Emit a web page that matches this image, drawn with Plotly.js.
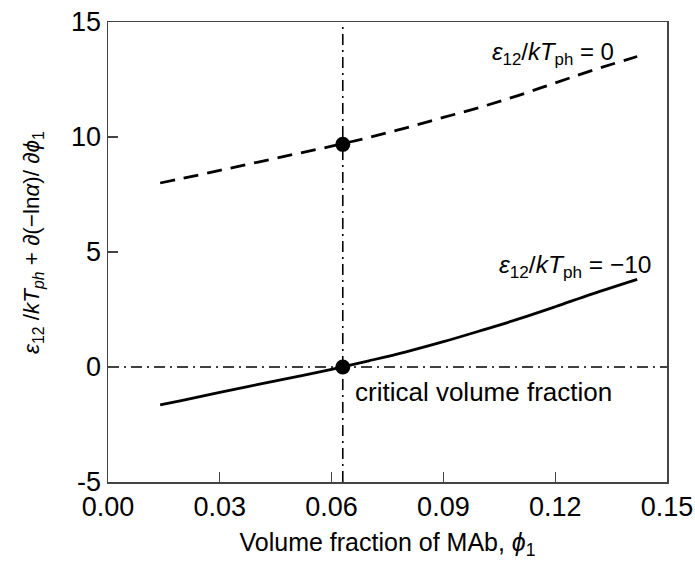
<!DOCTYPE html>
<html>
<head>
<meta charset="utf-8">
<script src="https://cdn.plot.ly/plotly-3.0.1.min.js"></script>
<style>html,body{margin:0;padding:0;background:#fff;}#chart{width:695px;height:563px;}</style>
</head>
<body>
<div id="chart"></div>
<script>
// Volume fraction of MAb (phi1)
const phi = [0.014, 0.02, 0.03, 0.04, 0.05, 0.06, 0.07, 0.08, 0.09, 0.10, 0.11, 0.12, 0.13, 0.142];
// eps12/kTph = 0 (dashed)
const curveZero = [8.0, 8.2, 8.55, 8.9, 9.25, 9.6, 9.98, 10.4, 10.85, 11.3, 11.8, 12.35, 12.9, 13.5];
// eps12/kTph = -10 (solid)
const curveMinus10 = [-1.65, -1.45, -1.1, -0.77, -0.44, -0.1, 0.27, 0.66, 1.1, 1.58, 2.08, 2.62, 3.18, 3.81];
// critical volume fraction points
const critPhi = 0.063;
const critX = [0.063, 0.063];
const critY = [9.68, 0];
const xTickVals = [0, 0.03, 0.06, 0.09, 0.12, 0.15];
const xTickLabels = ['0.00', '0.03', '0.06', '0.09', '0.12', '0.15'];
const yTickVals = [-5, 0, 5, 10, 15];
const yTickLabels = ['-5', '0', '5', '10', '15'];

const FONT = 'Arial, "Liberation Sans", sans-serif';

const traces = [
  {x: phi, y: curveZero, mode: 'lines', line: {color: '#000', width: 2.8, dash: '15px,9px', shape: 'spline'}, hoverinfo: 'skip'},
  {x: phi, y: curveMinus10, mode: 'lines', line: {color: '#000', width: 2.8, shape: 'spline'}, hoverinfo: 'skip'},
  {x: critX, y: critY, mode: 'markers', marker: {color: '#000', size: 15}, hoverinfo: 'skip'}
];

const layout = {
  width: 695, height: 563,
  margin: {l: 108, r: 28, t: 22, b: 81},
  paper_bgcolor: '#fff', plot_bgcolor: '#fff',
  showlegend: false,
  font: {family: FONT, color: '#000', size: 24},
  xaxis: {
    range: [0, 0.15], tickvals: xTickVals, ticktext: xTickLabels,
    ticks: 'inside', ticklen: 10, tickwidth: 1.2, tickcolor: '#444',
    showline: true, mirror: true, linecolor: '#444', linewidth: 1.5,
    showgrid: false, zeroline: false,
    tickfont: {size: 27, family: FONT},
    title: {text: 'Volume fraction of MAb, <i>ϕ</i><sub>1</sub>', font: {size: 25, family: FONT}, standoff: 12}
  },
  yaxis: {
    range: [-5, 15], tickvals: yTickVals, ticktext: yTickLabels,
    ticks: 'inside', ticklen: 10, tickwidth: 1.2, tickcolor: '#444',
    showline: true, mirror: true, linecolor: '#444', linewidth: 1.5,
    showgrid: false, zeroline: false,
    tickfont: {size: 27, family: FONT}
  },
  shapes: [
    {type: 'line', xref: 'x', yref: 'paper', x0: critPhi, x1: critPhi, y0: 0, y1: 1, line: {color: '#000', width: 1.6, dash: '11px,5px,2px,5px'}, layer: 'below'},
    {type: 'line', xref: 'paper', yref: 'y', x0: 0, x1: 1, y0: 0, y1: 0, line: {color: '#000', width: 1.6, dash: '11px,5px,2px,5px'}, layer: 'below'}
  ],
  annotations: [
    {xref: 'paper', yref: 'paper', x: -0.134, y: 0.52, xanchor: 'center', yanchor: 'middle', textangle: -90, showarrow: false,
     text: '<i>ε</i><sub>12</sub> /<i>kT<sub>ph</sub></i> + ∂(−ln<i>α</i>)/ ∂<i>ϕ</i><sub>1</sub>', font: {size: 22.5, family: FONT}},
    {xref: 'x', yref: 'y', x: 0.1363, y: 13.65, xanchor: 'right', yanchor: 'middle', showarrow: false,
     text: '<i>ε</i><sub>12</sub>/<i>kT</i><sub>ph</sub> = 0', font: {size: 24, family: FONT}},
    {xref: 'x', yref: 'y', x: 0.1462, y: 4.39, xanchor: 'right', yanchor: 'middle', showarrow: false,
     text: '<i>ε</i><sub>12</sub>/<i>kT</i><sub>ph</sub> = −10', font: {size: 24.5, family: FONT}},
    {xref: 'x', yref: 'y', x: 0.0657, y: -1.09, xanchor: 'left', yanchor: 'middle', showarrow: false,
     text: 'critical volume fraction', font: {size: 26, family: FONT}}
  ]
};

Plotly.newPlot('chart', traces, layout, {staticPlot: true, displayModeBar: false});
</script>
</body>
</html>
